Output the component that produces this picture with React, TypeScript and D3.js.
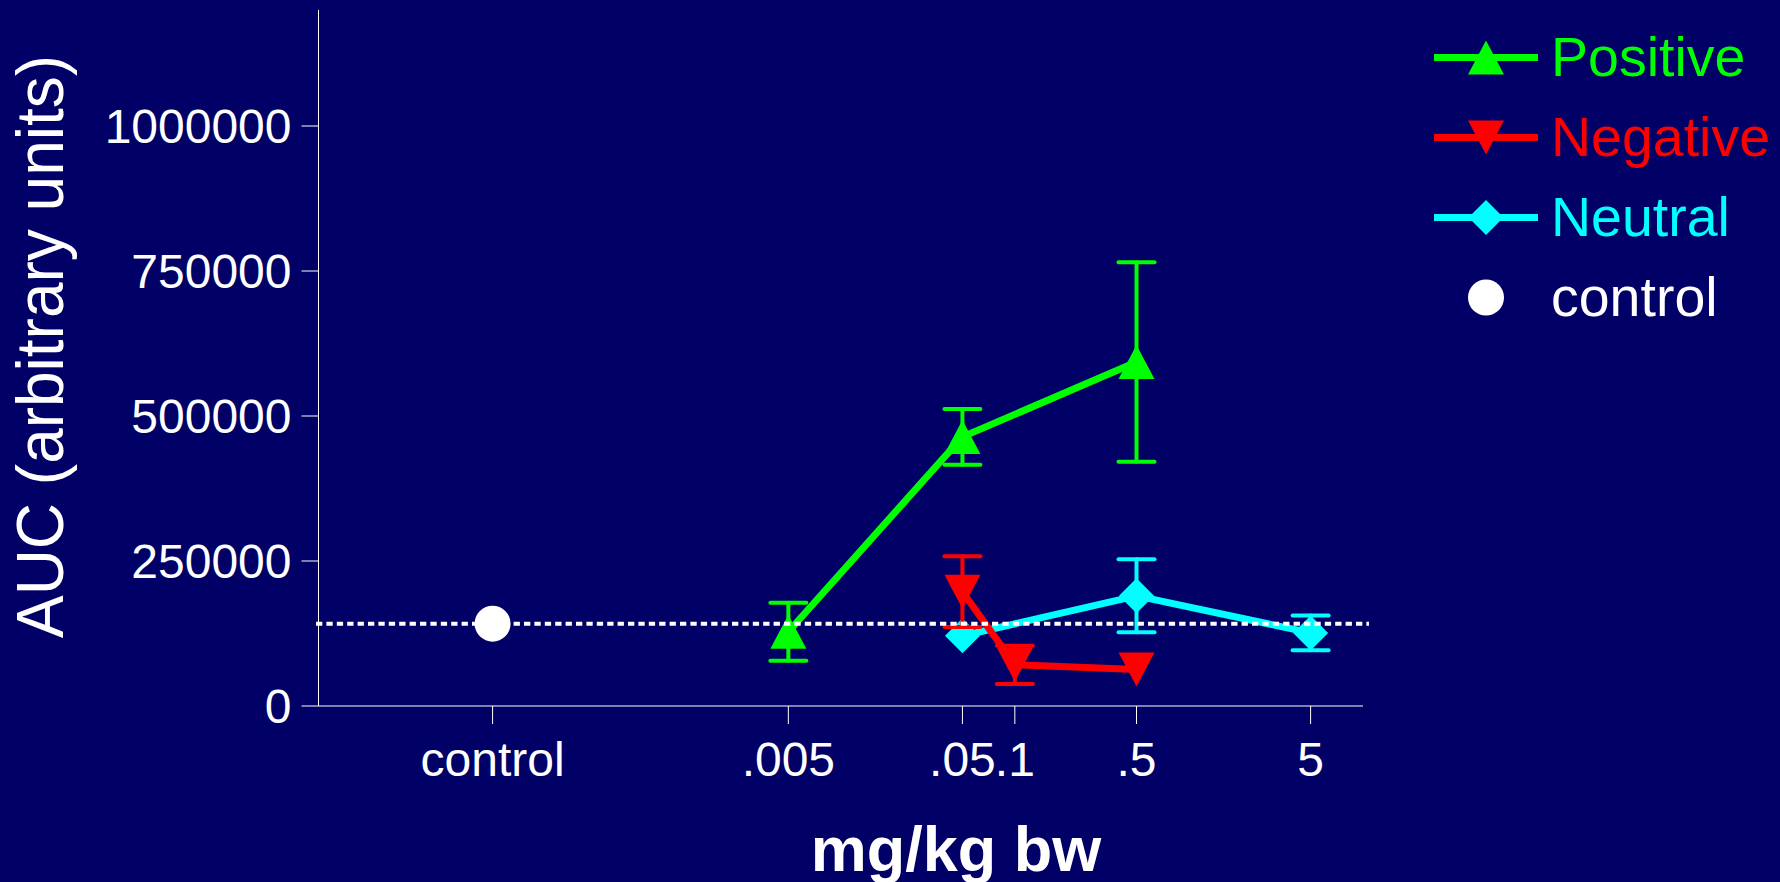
import React from "react";
import * as d3 from "d3";

// ---- data ----
const doseTicks = [0.0001, 0.005, 0.05, 0.1, 0.5, 5];
const doseTickLabels = ["control", ".005", ".05", ".1", ".5", "5"];
const aucTicks = [0, 250000, 500000, 750000, 1000000];

const controlDose = 0.0001;
const controlMean = 142000;

const positiveDose = [0.005, 0.05, 0.5];
const positiveMean = [128000, 464000, 593000];
const positiveSem = [50000, 48000, 172000];

const negativeDose = [0.05, 0.1, 0.5];
const negativeMean = [197000, 71000, 63000];
const negativeSem = [61000, 33000, 0];

const neutralDose = [0.05, 0.5, 5];
const neutralMean = [121000, 190000, 126000];
const neutralSem = [0, 63000, 30000];

const legendLabels = ["Positive", "Negative", "Neutral", "control"];

// ---- layout ----
const W = 1780;
const H = 882;
const BG = "#000066";
const FONT = "'Liberation Sans', Arial, Helvetica, sans-serif";
const GREEN = "#00ff00";
const RED = "#ff0000";
const CYAN = "#00ffff";
const WHITE = "#ffffff";

const x = d3.scaleLog().domain([1e-5, 10]).range([318.5, 1363]);
const y = d3.scaleLinear().domain([0, 1200000]).range([706, 10]);

type Shape = "up" | "down" | "diamond" | "circle";

function markerPath(shape: Shape, cx: number, cy: number): string {
  const hw = 18;
  const hh = 17;
  if (shape === "up") {
    return `M${cx - hw},${cy + hh}L${cx + hw},${cy + hh}L${cx},${cy - hh}Z`;
  }
  if (shape === "down") {
    return `M${cx - hw},${cy - hh}L${cx + hw},${cy - hh}L${cx},${cy + hh}Z`;
  }
  const r = 17.5;
  return `M${cx},${cy - r}L${cx + r},${cy}L${cx},${cy + r}L${cx - r},${cy}Z`;
}

function Marker({ shape, cx, cy, color }: { shape: Shape; cx: number; cy: number; color: string }) {
  if (shape === "circle") return <circle cx={cx} cy={cy} r={18} fill={color} />;
  return <path d={markerPath(shape, cx, cy)} fill={color} />;
}

function Series({
  dose,
  mean,
  sem,
  color,
  shape,
}: {
  dose: number[];
  mean: number[];
  sem: number[];
  color: string;
  shape: Shape;
}) {
  const pts = dose.map((d, i) => [x(d), y(mean[i])] as [number, number]);
  const line = d3.line()(pts) || "";
  return (
    <g>
      {dose.map((d, i) =>
        sem[i] > 0 ? (
          <g key={"e" + i} stroke={color} strokeWidth={4} strokeLinecap="round">
            <line x1={x(d)} x2={x(d)} y1={y(mean[i] + sem[i])} y2={y(mean[i] - sem[i])} />
            <line x1={x(d) - 18} x2={x(d) + 18} y1={y(mean[i] + sem[i])} y2={y(mean[i] + sem[i])} />
            <line x1={x(d) - 18} x2={x(d) + 18} y1={y(mean[i] - sem[i])} y2={y(mean[i] - sem[i])} />
          </g>
        ) : null
      )}
      <path d={line} fill="none" stroke={color} strokeWidth={7} strokeLinejoin="round" />
      {pts.map((p, i) => (
        <Marker key={"m" + i} shape={shape} cx={p[0]} cy={p[1]} color={color} />
      ))}
    </g>
  );
}

export default function App() {
  const legendRows = [
    { label: legendLabels[0], color: GREEN, shape: "up" as Shape, line: true },
    { label: legendLabels[1], color: RED, shape: "down" as Shape, line: true },
    { label: legendLabels[2], color: CYAN, shape: "diamond" as Shape, line: true },
    { label: legendLabels[3], color: WHITE, shape: "circle" as Shape, line: false },
  ];
  const [x0, x1] = x.range();
  const [y0, y1] = y.range();

  return (
    <svg
      width={W}
      height={H}
      viewBox={`0 0 ${W} ${H}`}
      style={{ position: "absolute", left: 0, top: 0, display: "block" }}
      fontFamily={FONT}
    >
      <rect x={0} y={0} width={W} height={H} fill={BG} />

      {/* y axis */}
      <line x1={x0} x2={x0} y1={y1} y2={y0} stroke={WHITE} strokeWidth={1} />
      {aucTicks.map((t) => (
        <g key={"yt" + t}>
          <line x1={x0 - 17} x2={x0} y1={y(t)} y2={y(t)} stroke={WHITE} strokeWidth={1} />
          <text x={x0 - 27} y={y(t)} dy="0.36em" textAnchor="end" fill={WHITE} fontSize={48}>
            {t}
          </text>
        </g>
      ))}
      <text
        transform="translate(63,346.5) rotate(-90)"
        textAnchor="middle"
        fill={WHITE}
        fontSize={66}
        textLength={583}
        lengthAdjust="spacingAndGlyphs"
      >
        AUC (arbitrary units)
      </text>

      {/* x axis */}
      <line x1={x0} x2={x1} y1={y0} y2={y0} stroke={WHITE} strokeWidth={1} />
      {doseTicks.map((t, i) => (
        <g key={"xt" + i}>
          <line x1={x(t)} x2={x(t)} y1={y0} y2={y0 + 18} stroke={WHITE} strokeWidth={1} />
          <text x={x(t)} y={775.5} textAnchor="middle" fill={WHITE} fontSize={48}>
            {doseTickLabels[i]}
          </text>
        </g>
      ))}
      <text x={956} y={870.5} textAnchor="middle" fill={WHITE} fontSize={63} fontWeight="bold">
        mg/kg bw
      </text>

      {/* series */}
      <Series dose={neutralDose} mean={neutralMean} sem={neutralSem} color={CYAN} shape="diamond" />
      <Series dose={negativeDose} mean={negativeMean} sem={negativeSem} color={RED} shape="down" />
      <Series dose={positiveDose} mean={positiveMean} sem={positiveSem} color={GREEN} shape="up" />

      {/* control reference line and point */}
      <line
        x1={316}
        x2={1369}
        y1={y(controlMean)}
        y2={y(controlMean)}
        stroke={WHITE}
        strokeWidth={4}
        strokeDasharray="6.3 4.1"
      />
      <circle cx={x(controlDose)} cy={y(controlMean)} r={18} fill={WHITE} />

      {/* legend */}
      {legendRows.map((r, i) => {
        const cy = 57.5 + 80 * i;
        return (
          <g key={"lg" + i}>
            {r.line && <line x1={1434} x2={1538} y1={cy} y2={cy} stroke={r.color} strokeWidth={7} />}
            <Marker shape={r.shape} cx={1486} cy={cy} color={r.color} />
            <text x={1551} y={cy + 18.5} fill={r.color} fontSize={55.5}>
              {r.label}
            </text>
          </g>
        );
      })}
    </svg>
  );
}
